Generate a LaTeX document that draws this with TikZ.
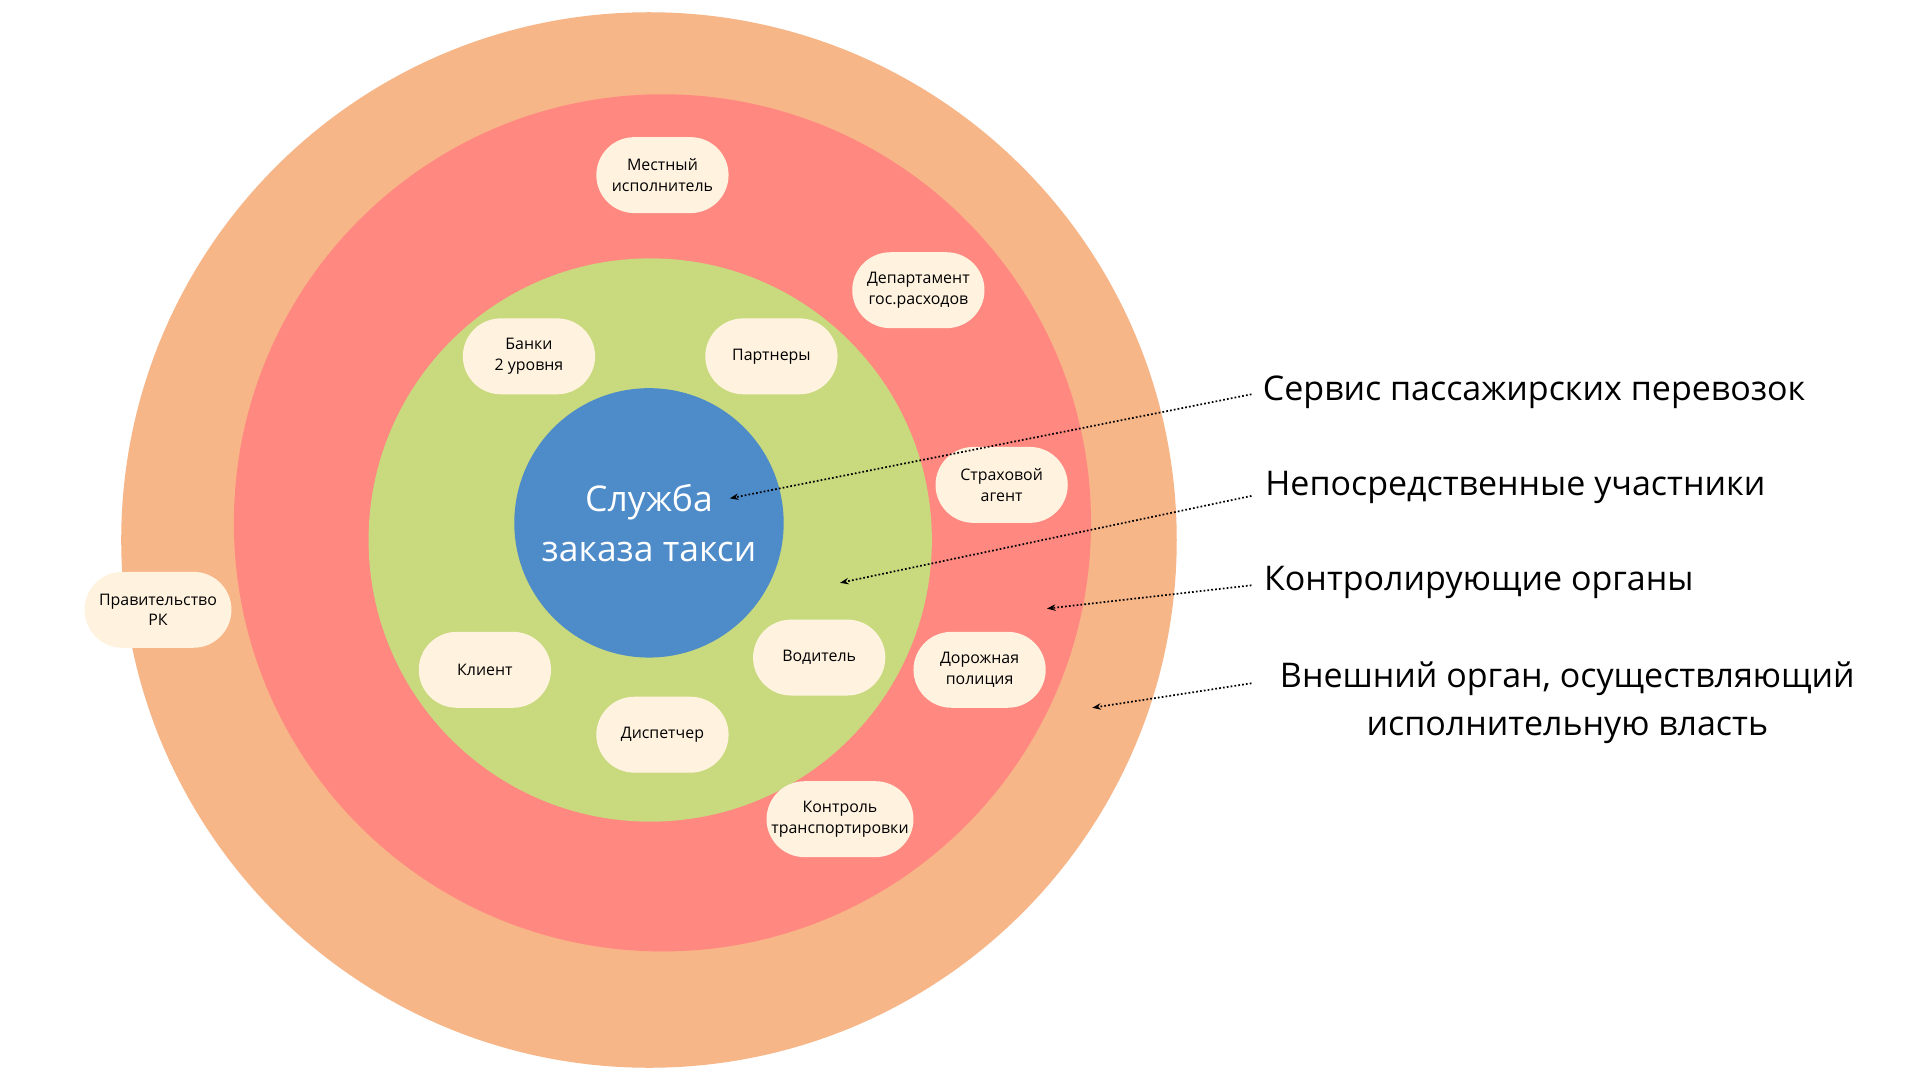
\documentclass[tikz,border=0pt]{standalone}
\usepackage{fontspec}
\setmainfont{Open Sans}
\usetikzlibrary{arrows.meta}
\definecolor{corange}{HTML}{F7B688}
\definecolor{cred}{HTML}{FF8880}
\definecolor{cgreen}{HTML}{C9D97E}
\definecolor{cblue}{HTML}{4D8BC9}
\definecolor{ccream}{HTML}{FFF3E0}
\tikzset{
  pill/.style={fill=ccream, rounded corners=31*0.02cm, minimum width=108*0.02cm, minimum height=62*0.02cm, align=center, font=\fontsize{7.4}{9.5}\selectfont, inner sep=1pt},
  lbl/.style={font=\fontsize{15.8}{22}\selectfont, anchor=west, inner sep=0pt},
  ptr/.style={densely dotted, thick, -{Stealth[length=4pt,width=3pt]}}
}
\begin{document}
\begin{tikzpicture}[x=0.02cm,y=-0.02cm]
\useasboundingbox (0,0) rectangle (1568,882);
\fill[white] (0,0) rectangle (1568,882);
\fill[corange] (530,441) circle (431);
\fill[cred] (541,427) circle (350);
\fill[cgreen] (531,441) circle (230);
\fill[cblue] (530,427) circle (110);
\node[text=white, align=center, font=\fontsize{16.5}{23}\selectfont] (center) at (530,427) {Служба\\заказа такси};
\node[pill] (p1) at (541,143) {Местный\\исполнитель};
\node[pill] (p2) at (750,237) {Департамент\\гос.расходов};
\node[pill] (p3) at (432,291) {Банки\\2 уровня};
\node[pill] (p4) at (630,291) {Партнеры};
\node[pill] (p5) at (818,396) {Страховой\\агент};
\node[pill, minimum width=120*0.02cm] (p6) at (129,498) {Правительство\\РК};
\node[pill] (p7) at (396,547) {Клиент};
\node[pill] (p8) at (669,537) {Водитель};
\node[pill] (p9) at (800,547) {Дорожная\\полиция};
\node[pill] (p10) at (541,600) {Диспетчер};
\node[pill, minimum width=120*0.02cm] (p11) at (686,669) {Контроль\\транспортировки};
\node[lbl] (l1) at (1031,320) {Сервис пассажирских перевозок};
\node[lbl] (l2) at (1033,398) {Непосредственные участники};
\node[lbl] (l3) at (1032,476) {Контролирующие органы};
\node[font=\fontsize{15.8}{22}\selectfont, align=center, inner sep=0pt] (l4) at (1280,574) {Внешний орган, осуществляющий\\исполнительную власть};
\coordinate (t1) at (596,407);
\coordinate (t2) at (686,476);
\coordinate (t3) at (855,497);
\coordinate (t4) at (892,578);
\draw[ptr] (1022,322) -- (t1);
\draw[ptr] (1022,405) -- (t2);
\draw[ptr] (1022,478) -- (t3);
\draw[ptr] (1022,558) -- (t4);
\end{tikzpicture}
\end{document}
